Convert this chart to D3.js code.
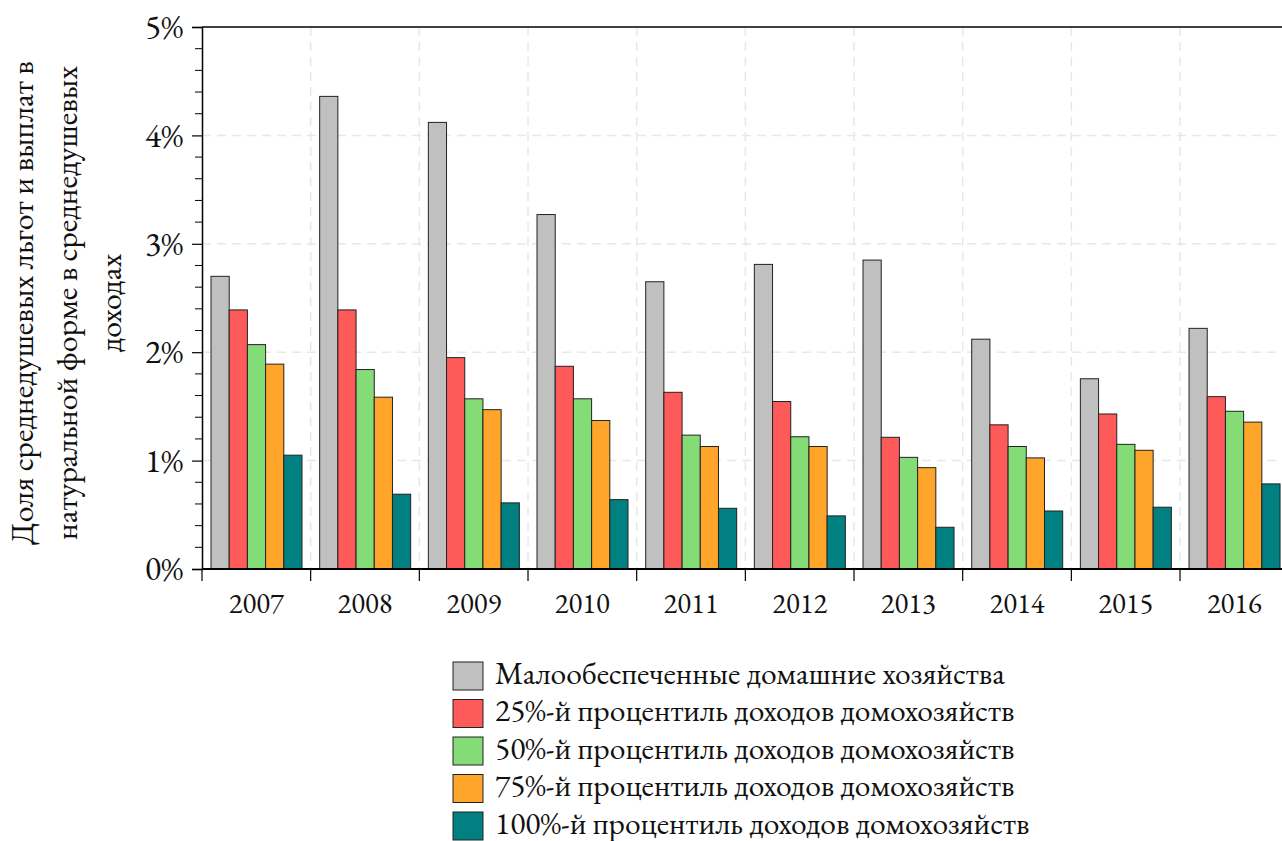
<!DOCTYPE html>
<html>
<head>
<meta charset="utf-8">
<script src="https://cdn.jsdelivr.net/npm/d3@7"></script>
<style>
  html, body { margin: 0; padding: 0; background: #fff; }
</style>
</head>
<body>
<svg id="chart" width="1282" height="841"></svg>
<script>
const years = ["2007","2008","2009","2010","2011","2012","2013","2014","2015","2016"];
const seriesNames = [
  "Малообеспеченные домашние хозяйства",
  "25%-й процентиль доходов домохозяйств",
  "50%-й процентиль доходов домохозяйств",
  "75%-й процентиль доходов домохозяйств",
  "100%-й процентиль доходов домохозяйств"
];
const lowIncome = [2.70, 4.36, 4.12, 3.27, 2.65, 2.81, 2.85, 2.12, 1.755, 2.22];
const p25 = [2.39, 2.39, 1.95, 1.87, 1.63, 1.545, 1.215, 1.33, 1.43, 1.59];
const p50 = [2.07, 1.84, 1.57, 1.57, 1.235, 1.22, 1.03, 1.13, 1.15, 1.455];
const p75 = [1.89, 1.585, 1.47, 1.37, 1.13, 1.13, 0.935, 1.025, 1.095, 1.355];
const p100 = [1.05, 0.69, 0.61, 0.64, 0.56, 0.49, 0.385, 0.535, 0.57, 0.785];
const yTicks = [0, 1, 2, 3, 4, 5];
const yAxisTitle = ["Доля среднедушевых льгот и выплат в", "натуральной форме в среднедушевых", "доходах"];
const colors = ["#c0c0c0", "#ff5a5a", "#83dc76", "#ffa52a", "#008080"];

const seriesValues = [lowIncome, p25, p50, p75, p100];
const FONT = '"EB Garamond", "Liberation Serif", serif';

const svg = d3.select("#chart");

// measure helper: font size giving target width for a string
function fitSize(str, targetWidth) {
  const t = svg.append("text").style("font-family", FONT).style("font-size", "100px").text(str);
  const w = t.node().getComputedTextLength();
  t.remove();
  return 100 * targetWidth / w;
}
const tickSizeX = fitSize("2007", 55);
const tickSizeY = fitSize("5%", 38);
const legendSize = fitSize(seriesNames[0], 510);
const titleSize = fitSize(yAxisTitle[0], 484);

const plotLeft = 202, plotTop = 27, plotBottom = 569;
const step = 108.67;
const x0 = d3.scaleBand().domain(years).range([plotLeft, plotLeft + step * years.length]).padding(0);
const x1 = d3.scaleBand().domain(d3.range(seriesNames.length)).range([9, 100]).padding(0);
const y = d3.scaleLinear().domain([0, 5]).range([plotBottom, plotTop]);

const g = svg.append("g");

// grid
const grid = g.append("g");
grid.selectAll("line.h").data(yTicks.filter(t => t > 0 && t < 5)).enter().append("line")
  .attr("x1", plotLeft).attr("x2", 1282)
  .attr("y1", d => y(d)).attr("y2", d => y(d))
  .attr("stroke", "#e8e8e8").attr("stroke-width", 1.5).attr("stroke-dasharray", "9,6");
grid.selectAll("line.v").data(years.slice(1)).enter().append("line")
  .attr("x1", d => x0(d)).attr("x2", d => x0(d))
  .attr("y1", plotTop).attr("y2", plotBottom)
  .attr("stroke", "#e8e8e8").attr("stroke-width", 1.5).attr("stroke-dasharray", "9,6");

// bars
const groups = g.selectAll("g.year").data(years).enter().append("g")
  .attr("transform", d => `translate(${x0(d)},0)`);
groups.selectAll("rect").data((d, i) => seriesValues.map((s, k) => ({k, v: s[i]}))).enter().append("rect")
  .attr("x", d => x1(d.k))
  .attr("width", x1.bandwidth())
  .attr("y", d => y(d.v))
  .attr("height", d => y(0) - y(d.v))
  .attr("fill", d => colors[d.k])
  .attr("stroke", "#222").attr("stroke-width", 1);

// top border
g.append("line").attr("x1", plotLeft).attr("x2", 1282).attr("y1", plotTop).attr("y2", plotTop)
  .attr("stroke", "#000").attr("stroke-width", 1.5);

// y axis
const yAxis = d3.axisLeft(y).tickValues(yTicks).tickSize(10).tickPadding(9)
  .tickFormat(d => d + "%");
const yg = g.append("g").attr("transform", `translate(${plotLeft},0)`).call(yAxis);
yg.select(".domain").attr("stroke-width", 1.5);
yg.selectAll(".tick line").attr("stroke-width", 1.2);
yg.selectAll(".tick text").style("font-family", FONT).style("font-size", tickSizeY + "px").attr("fill", "#111");
const minor = d3.range(0, 5.001, 0.2).filter(v => Math.abs(v - Math.round(v)) > 0.01);
yg.selectAll("line.minor").data(minor).enter().append("line")
  .attr("x1", -7).attr("x2", 0).attr("y1", d => y(d)).attr("y2", d => y(d))
  .attr("stroke", "#000").attr("stroke-width", 1);

// x axis
const xg = g.append("g").attr("transform", `translate(0,${plotBottom})`);
xg.append("line").attr("x1", plotLeft).attr("x2", 1282).attr("y1", 0).attr("y2", 0)
  .attr("stroke", "#000").attr("stroke-width", 2.2);
xg.selectAll("line.tick").data(years).enter().append("line")
  .attr("x1", d => x0(d)).attr("x2", d => x0(d)).attr("y1", 0).attr("y2", 12)
  .attr("stroke", "#000").attr("stroke-width", 1.2);
xg.selectAll("text").data(years).enter().append("text")
  .attr("x", d => x0(d) + x0.bandwidth() / 2).attr("y", 44)
  .attr("text-anchor", "middle").style("font-family", FONT).style("font-size", tickSizeX + "px")
  .attr("fill", "#111").text(d => d);

// y axis title
const tt = svg.append("text").attr("transform", "translate(0,303) rotate(-90)")
  .attr("text-anchor", "middle").style("font-family", FONT).style("font-size", titleSize + "px").attr("fill", "#111");
yAxisTitle.forEach((line, i) => {
  tt.append("tspan").attr("x", 0).attr("y", 33 + i * 44).text(line);
});

// legend
const lg = svg.append("g").attr("transform", "translate(453,662)");
const rows = lg.selectAll("g").data(seriesNames).enter().append("g")
  .attr("transform", (d, i) => `translate(0,${i * 37.5})`);
rows.append("rect").attr("width", 30).attr("height", 28)
  .attr("fill", (d, i) => colors[i]).attr("stroke", "#222").attr("stroke-width", 1);
rows.append("text").attr("x", 42).attr("y", 21.5).style("font-family", FONT)
  .style("font-size", legendSize + "px").attr("fill", "#111").text(d => d);
</script>
</body>
</html>
